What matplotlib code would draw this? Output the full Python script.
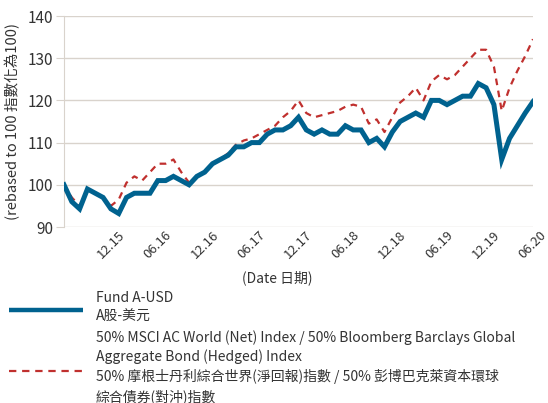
import matplotlib
matplotlib.use("Agg")
import matplotlib.pyplot as plt
import numpy as np
from matplotlib.lines import Line2D

plt.rcParams['font.family'] = ['Noto Sans CJK TC', 'DejaVu Sans']

# monthly index 0 = 06.2015 ... 60 = 06.2020
fund = [100, 96, 94.3, 99, 98, 97, 94.3, 93.2, 97, 98, 98, 98, 101, 101, 102, 101,
        100, 102, 103, 105, 106, 107, 109, 109, 110, 110, 112, 113, 113, 114, 116,
        113, 112, 113, 112, 112, 114, 113, 113, 110, 111, 109, 112.5, 115, 116, 117,
        116, 120, 120, 119, 120, 121, 121, 124, 123, 119, 106, 111, 114, 117, 119.7]
bench = [100, 97, 95, 99, 98, 97, 95, 96.5, 100.5, 102, 101, 103, 105, 105, 106, 103,
         100.5, 102, 103, 105, 106, 107.5, 109.5, 110.5, 111, 112, 113, 114, 116, 117.5, 120,
         117, 116, 116.5, 117, 117.5, 118.5, 119, 118.5, 114.5, 115.5, 112.5, 116, 119.5, 121, 123,
         120, 124.5, 126, 125, 126, 128, 130, 132, 132, 128, 117.5, 123, 127, 130.5, 134.5]
tick_pos = [6, 12, 18, 24, 30, 36, 42, 48, 54, 60]
tick_labels = ['12.15', '06.16', '12.16', '06.17', '12.17', '06.18', '12.18', '06.19', '12.19', '06.20']
yticks = [90, 100, 110, 120, 130, 140]

fund_label = "Fund A-USD\nA股-美元"
bench_label = ("50% MSCI AC World (Net) Index / 50% Bloomberg Barclays Global\n"
               "Aggregate Bond (Hedged) Index\n"
               "50% 摩根士丹利綜合世界(淨回報)指數 / 50% 彭博巴克萊資本環球\n"
               "綜合債券(對沖)指數")

blue = '#00628f'
red = '#c0302e'
grid_c = '#d9d3cc'
text_c = '#333333'

fig = plt.figure(figsize=(5.48, 4.03), dpi=100)
ax = fig.add_axes([64/548, 1-227/403, (533-64)/548, (227-16)/403])

x = np.arange(len(fund))
ax.plot(x, bench, color=red, lw=1.6, dashes=(3, 2.5), zorder=3)
ax.plot(x, fund, color=blue, lw=3.6, solid_joinstyle='miter', zorder=4)

ax.set_xlim(0, 60)
ax.set_ylim(90, 140)
ax.set_yticks(yticks)
ax.set_xticks(tick_pos)
ax.set_xticklabels(tick_labels, rotation=45, ha='center', va='top',
                   fontsize=9.5, color=text_c)
ax.tick_params(axis='x', length=0, pad=1)
ax.tick_params(axis='y', length=6, color=grid_c, labelsize=11, labelcolor=text_c, pad=2)
ax.grid(axis='y', color=grid_c, lw=1)
ax.set_axisbelow(True)
for s in ['top', 'right', 'bottom']:
    ax.spines[s].set_visible(False)
ax.spines['left'].set_color(grid_c)
ax.spines['left'].set_position(('data', 0))

ax.set_ylabel("(rebased to 100 指數化為100)", fontsize=10.5, color=text_c, labelpad=5)
fig.text(277/548, 1-278/403, "(Date 日期)", ha='center', va='center', fontsize=10, color=text_c)

# legend
fig.add_artist(Line2D([9/548, 83/548], [1-310/403, 1-310/403], color=blue, lw=3.2,
                      solid_capstyle='butt'))
fig.add_artist(Line2D([9/548, 83/548], [1-370.5/403, 1-370.5/403], color=red, lw=1.6,
                      dashes=(3.3, 2.6)))
fig.text(96/548, 1-307/403, fund_label, ha='left', va='center', fontsize=10,
         color=text_c, linespacing=1.42)
fig.text(96/548, 1-367/403, bench_label, ha='left', va='center', fontsize=10,
         color=text_c, linespacing=1.42)

fig.savefig('out.png', dpi=100)
